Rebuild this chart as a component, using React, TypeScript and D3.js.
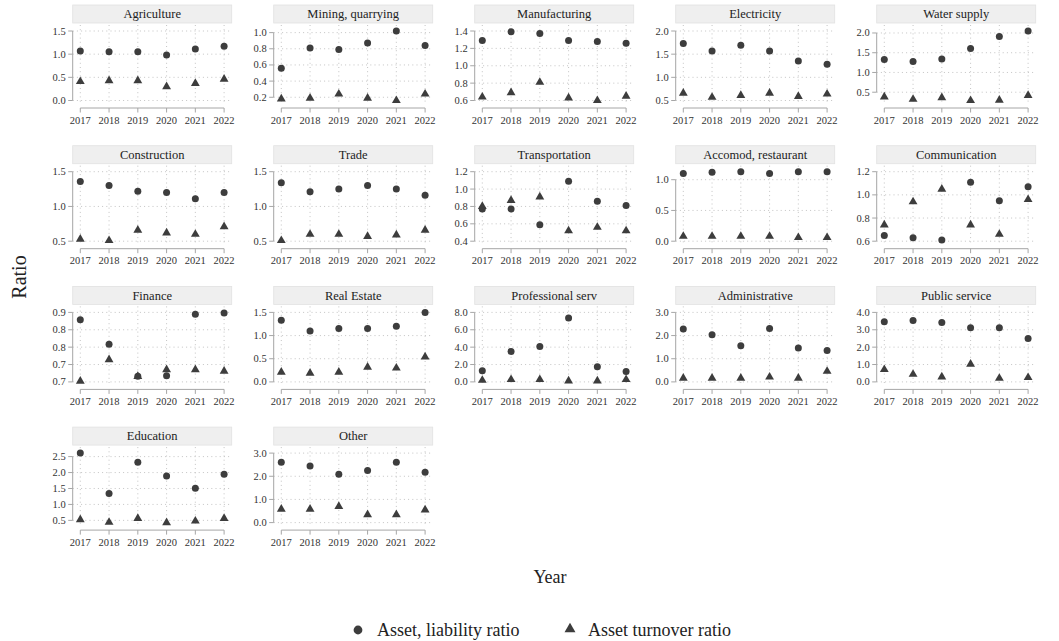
import React from "react";
import * as d3 from "d3";

const years = [2017, 2018, 2019, 2020, 2021, 2022];

const sectors = [
  "Agriculture", "Mining, quarrying", "Manufacturing", "Electricity", "Water supply",
  "Construction", "Trade", "Transportation", "Accomod, restaurant", "Communication",
  "Finance", "Real Estate", "Professional serv", "Administrative", "Public service",
  "Education", "Other",
];

// Asset, liability ratio (circles)
const assetLiability = [
  [1.07, 1.05, 1.05, 0.98, 1.11, 1.17],
  [0.56, 0.81, 0.79, 0.87, 1.02, 0.84],
  [1.29, 1.39, 1.37, 1.29, 1.28, 1.26],
  [1.73, 1.57, 1.69, 1.57, 1.35, 1.28],
  [1.33, 1.28, 1.34, 1.61, 1.91, 2.05],
  [1.36, 1.30, 1.22, 1.20, 1.11, 1.20],
  [1.34, 1.21, 1.25, 1.30, 1.25, 1.16],
  [0.77, 0.77, 0.59, 1.09, 0.86, 0.81],
  [1.10, 1.12, 1.13, 1.10, 1.13, 1.13],
  [0.65, 0.63, 0.61, 1.11, 0.95, 1.07],
  [0.879, 0.808, 0.716, 0.718, 0.895, 0.898],
  [1.33, 1.10, 1.15, 1.15, 1.20, 1.50],
  [1.27, 3.50, 4.08, 7.35, 1.73, 1.19],
  [2.28, 2.03, 1.56, 2.31, 1.46, 1.36],
  [3.46, 3.54, 3.42, 3.12, 3.12, 2.50],
  [2.61, 1.34, 2.32, 1.89, 1.51, 1.95],
  [2.60, 2.44, 2.09, 2.25, 2.60, 2.17],
];

// Asset turnover ratio (triangles)
const assetTurnover = [
  [0.41, 0.43, 0.43, 0.30, 0.37, 0.46],
  [0.18, 0.19, 0.24, 0.19, 0.16, 0.24],
  [0.64, 0.69, 0.81, 0.63, 0.60, 0.65],
  [0.66, 0.57, 0.61, 0.66, 0.59, 0.64],
  [0.38, 0.32, 0.36, 0.29, 0.30, 0.42],
  [0.53, 0.51, 0.66, 0.62, 0.60, 0.71],
  [0.51, 0.60, 0.60, 0.57, 0.59, 0.66],
  [0.80, 0.87, 0.91, 0.52, 0.56, 0.52],
  [0.08, 0.08, 0.08, 0.08, 0.06, 0.06],
  [0.74, 0.94, 1.05, 0.74, 0.66, 0.96],
  [0.702, 0.764, 0.716, 0.735, 0.735, 0.731],
  [0.21, 0.19, 0.21, 0.32, 0.30, 0.54],
  [0.19, 0.27, 0.27, 0.12, 0.12, 0.27],
  [0.16, 0.16, 0.16, 0.21, 0.16, 0.46],
  [0.71, 0.44, 0.29, 1.02, 0.21, 0.25],
  [0.52, 0.44, 0.56, 0.43, 0.48, 0.56],
  [0.58, 0.58, 0.70, 0.34, 0.34, 0.55],
];

const yTicks = [
  [0, 0.5, 1.0, 1.5],
  [0.2, 0.4, 0.6, 0.8, 1.0],
  [0.6, 0.8, 1.0, 1.2, 1.4],
  [0.5, 1.0, 1.5, 2.0],
  [0.5, 1.0, 1.5, 2.0],
  [0.5, 1.0, 1.5],
  [0.5, 1.0, 1.5],
  [0.4, 0.6, 0.8, 1.0, 1.2],
  [0, 0.5, 1.0],
  [0.6, 0.8, 1.0, 1.2],
  [0.7, 0.75, 0.8, 0.85, 0.9],
  [0, 0.5, 1.0, 1.5],
  [0, 2, 4, 6, 8],
  [0, 1, 2, 3],
  [0, 1, 2, 3, 4],
  [0.5, 1.0, 1.5, 2.0, 2.5],
  [0, 1, 2, 3],
];

const yTickLabels: (string[] | null)[] = sectors.map(() => null);
yTickLabels[10] = ["0.7", "0.7", "0.8", "0.8", "0.9"];

const legendLabels = ["Asset, liability ratio", "Asset turnover ratio"];

const W = 1059;
const H = 641;
const FONT = "Liberation Serif, DejaVu Serif, Times New Roman, serif";
const MARK = "#3d3d3d";
const AXIS = "#a6a6a6";
const GRID = "#bdbdbd";
const TEXT = "#222";
const fontStyle = { fontFamily: FONT };

const PLOT_W = 159;
const colLeft = (c: number) => 72.7 + c * 201;
const rowTop = (r: number) => 5 + r * 140.7;

const triPath = d3.symbol().type(d3.symbolTriangle).size(34)() as string;
const triLegend = d3.symbol().type(d3.symbolTriangle).size(52)() as string;
const fmt = d3.format(".1f");

function Panel({ i }: { i: number }) {
  const r = Math.floor(i / 5);
  const c = i % 5;
  const L = colLeft(c);
  const T = rowTop(r);
  const ticks = yTicks[i];
  const labels = yTickLabels[i] ?? ticks.map((t) => fmt(t));
  const all = [...assetLiability[i], ...assetTurnover[i], ...ticks];
  const x = d3.scaleLinear().domain([2017, 2022]).range([L + 7.6, L + 151.4]);
  const y = d3
    .scaleLinear()
    .domain([d3.min(all) as number, d3.max(all) as number])
    .range([T + 95.5, T + 26]);
  const tMin = d3.min(ticks) as number;
  const tMax = d3.max(ticks) as number;
  const axY = T + 103;
  return (
    <g>
      <rect x={L} y={T} width={PLOT_W} height={18} fill="#efefef" stroke="#e2e2e2" strokeWidth={0.8} />
      <text x={L + PLOT_W / 2} y={T + 13.3} textAnchor="middle" fontSize={12.5} fill={TEXT} style={fontStyle}>
        {sectors[i]}
      </text>
      {ticks.map((t, k) => (
        <line key={"h" + k} x1={L} x2={L + PLOT_W} y1={y(t)} y2={y(t)} stroke={GRID} strokeWidth={0.9} strokeDasharray="1,3.2" />
      ))}
      {years.map((yr) => (
        <line key={"v" + yr} x1={x(yr)} x2={x(yr)} y1={T + 20} y2={T + 99} stroke={GRID} strokeWidth={0.9} strokeDasharray="1,3.2" />
      ))}
      <line x1={L} x2={L} y1={y(tMax)} y2={y(tMin)} stroke={AXIS} strokeWidth={1} />
      {ticks.map((t, k) => (
        <g key={"yt" + k}>
          <line x1={L - 4.5} x2={L} y1={y(t)} y2={y(t)} stroke={AXIS} strokeWidth={1} />
          <text x={L - 7} y={y(t) + 3.5} textAnchor="end" fontSize={10.5} fill="#333" style={fontStyle}>
            {labels[k]}
          </text>
        </g>
      ))}
      <line x1={x(2017)} x2={x(2022)} y1={axY} y2={axY} stroke={AXIS} strokeWidth={1} />
      {years.map((yr) => (
        <g key={"xt" + yr}>
          <line x1={x(yr)} x2={x(yr)} y1={axY} y2={axY + 4.5} stroke={AXIS} strokeWidth={1} />
          <text x={x(yr)} y={T + 118.5} textAnchor="middle" fontSize={10.5} fill="#333" style={fontStyle}>
            {yr}
          </text>
        </g>
      ))}
      {assetTurnover[i].map((v, k) => (
        <path key={"t" + k} d={triPath} transform={`translate(${x(years[k])},${y(v)})`} fill={MARK} />
      ))}
      {assetLiability[i].map((v, k) => (
        <circle key={"c" + k} cx={x(years[k])} cy={y(v)} r={3.5} fill={MARK} />
      ))}
    </g>
  );
}

export default function App() {
  return (
    <svg
      width={W}
      height={H}
      viewBox={`0 0 ${W} ${H}`}
      style={{ position: "absolute", left: 0, top: 0, background: "#fff", fontFamily: FONT }}
    >
      <rect x={0} y={0} width={W} height={H} fill="#fff" />
      {sectors.map((_, i) => (
        <Panel key={i} i={i} />
      ))}
      <text transform="translate(26,277) rotate(-90)" textAnchor="middle" fontSize={20} fill={TEXT} style={fontStyle}>
        Ratio
      </text>
      <text x={550} y={583} textAnchor="middle" fontSize={18} fill={TEXT} style={fontStyle}>
        Year
      </text>
      <circle cx={358} cy={630} r={4.4} fill={MARK} />
      <text x={377} y={636} fontSize={18} fill={TEXT} style={fontStyle}>
        {legendLabels[0]}
      </text>
      <path d={triLegend} transform="translate(570,629)" fill={MARK} />
      <text x={588} y={636} fontSize={18} fill={TEXT} style={fontStyle}>
        {legendLabels[1]}
      </text>
    </svg>
  );
}
